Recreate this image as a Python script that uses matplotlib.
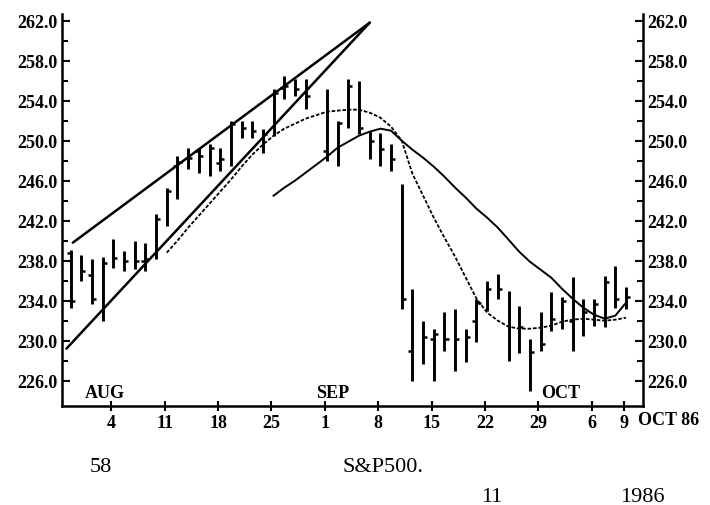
import numpy as np
import matplotlib
matplotlib.use('Agg')
import matplotlib.pyplot as plt
import matplotlib.ticker as ticker

plt.rcParams['font.family'] = ['Liberation Serif', 'DejaVu Serif']

#%% data (trading day index, day 23 = holiday gap)
day = list(range(0, 23)) + list(range(24, 53))
nan = np.nan

high = [239.1, 238.6, 238.2, 238.4, 240.2, 239.0, 240.0, 239.8, 242.7, 245.3,
        248.5, 249.3, 249.3, 249.7, 249.3, 252.0, 252.0, 252.0, 251.2, 255.2,
        256.5, 256.2, 256.2,
        255.2, 252.0, 256.2, 256.0, 251.0, 250.8, 249.7, 245.7, 235.2, 232.0,
        231.2, 232.9, 233.2, 231.2, 234.2, 236.0, 236.7, 235.0, 233.5, 230.2,
        232.9, 234.9, 234.4, 236.4, 234.2, 234.2, 236.5, 237.5, 235.4]
low = [233.3, 236.0, 233.7, 232.0, 237.3, 237.0, 237.2, 237.0, 238.2, 241.5,
       244.2, 247.2, 246.8, 246.5, 247.0, 247.5, 250.3, 250.3, 248.8, 250.5,
       254.2, 254.5, 253.2,
       248.0, 247.5, 251.3, 250.7, 248.2, 247.5, 247.0, 233.2, 226.0, 227.7,
       226.0, 229.0, 227.0, 227.9, 229.9, 233.0, 234.2, 228.0, 228.8, 225.0,
       229.0, 231.0, 231.2, 229.0, 230.5, 231.5, 231.4, 233.3, 233.2]
opn = [238.8, nan, 236.6, nan, nan, nan, nan, 238.0, nan, nan,
       247.5, nan, 249.0, nan, 247.8, nan, nan, nan, nan, nan,
       255.3, nan, nan,
       249.0, nan, nan, nan, nan, nan, nan, nan, 229.0, nan,
       230.2, nan, nan, nan, 232.0, nan, nan, nan, nan, nan,
       nan, nan, nan, 232.0, nan, nan, nan, nan, nan]
close = [234.0, 237.0, 234.2, 237.8, 238.3, 238.0, 238.0, 238.2, 242.2, 245.0,
         247.9, 248.3, 248.5, 249.3, 248.2, 251.7, 251.3, 251.0, 250.7, 254.8,
         255.5, 255.2, 254.5,
         nan, 251.8, 255.5, 251.3, 250.0, 249.2, 248.2, 234.2, nan, 230.4,
         230.7, 230.2, 230.2, 230.4, 233.8, 235.2, 235.2, nan, 231.4, 228.9,
         229.7, 232.2, 234.0, nan, 232.9, 233.7, 235.9, 234.2, 234.4]

# moving averages
ma_short_day = list(range(9, 23)) + list(range(24, 53))
ma_short = [238.8, 240.0, 241.3, 242.5, 243.7, 244.9, 246.1, 247.4, 248.6, 249.6,
            250.5, 251.2, 251.7, 252.2,
            252.9, 253.0, 253.1, 253.1, 252.8, 252.3, 251.4, 250.0, 246.7, 244.5,
            242.3, 240.3, 238.4, 236.3, 234.2, 232.8, 232.0, 231.4, 231.2, 231.2,
            231.3, 231.5, 231.9, 232.1, 232.2, 232.1, 232.0, 232.1, 232.3]
ma_long_day = list(range(19, 23)) + list(range(24, 53))
ma_long = [244.5, 245.3, 246.0, 246.8,
           248.4, 249.3, 249.9, 250.5, 250.9, 251.2, 251.0, 250.0, 249.1, 248.3,
           247.4, 246.4, 245.3, 244.3, 243.2, 242.3, 241.3, 240.1, 238.9, 237.9,
           237.1, 236.3, 235.2, 234.2, 233.3, 232.6, 232.2, 232.5, 233.8]

# trend lines (start, apex)
upper_x = [0.2, 28.0]
upper_y = [239.8, 261.8]
lower_x = [-0.4, 28.0]
lower_y = [229.2, 261.8]

xtick_pos = [3.8, 8.8, 13.8, 18.8, 23.8, 28.8, 33.8, 38.8, 43.8, 48.8, 51.8]
xtick_lab = ['4', '11', '18', '25', '1', '8', '15', '22', '29', '6', '9']
months = ['AUG', 'SEP', 'OCT']
month_pos = [3.2, 24.5, 45.9]

#%% plot
fig = plt.figure(figsize=(7.1, 5.06), dpi=100)
ax = fig.add_axes([0.0873, 0.1957, 0.8183, 0.7747])

w = 0.38
ax.vlines(day, low, high, colors='k', lw=2.1)
ax.hlines(opn, np.array(day) - w, day, colors='k', lw=1.8)
ax.hlines(close, day, np.array(day) + w, colors='k', lw=1.8)

ax.plot(upper_x, upper_y, color='k', lw=1.8, solid_capstyle='round')
ax.plot(lower_x, lower_y, color='k', lw=1.8, solid_capstyle='round')
ax.plot(ma_short_day, ma_short, color='k', lw=1.3, ls=(0, (2, 1)))
ax.plot(ma_long_day, ma_long, color='k', lw=1.4)

for m, p in zip(months, month_pos):
    ax.text(p, 224.8, m, ha='center', va='center', fontsize=13, fontweight='bold')

ax.set_xlim(-0.815, 53.59)
ax.set_ylim(223.47, 262.67)

ax.spines['top'].set_visible(False)
for s in ['left', 'right', 'bottom']:
    ax.spines[s].set_linewidth(1.8)

# y ticks on both sides
ax.yaxis.set_major_locator(ticker.FixedLocator(np.arange(226, 263, 4)))
ax.yaxis.set_minor_locator(ticker.FixedLocator(np.arange(228, 263, 4)))
ax.yaxis.set_major_formatter(ticker.FormatStrFormatter('%.1f'))
ax.tick_params(axis='y', which='both', direction='in', left=True, right=True,
               labelleft=True, labelright=True, width=1.5, labelsize=13, pad=3)
ax.tick_params(axis='y', which='major', length=6)
ax.tick_params(axis='y', which='minor', length=4)
for lab in ax.get_yticklabels():
    lab.set_fontweight('bold')

ax.set_xticks(xtick_pos)
ax.set_xticklabels(xtick_lab, fontsize=13, fontweight='bold')
ax.tick_params(axis='x', direction='inout', length=7, width=1.5, pad=2)

# month/year after the last date label
fig.text(638 / 710, 1 - 421 / 506, 'OCT 86', fontsize=13, fontweight='bold',
         ha='left', va='center')

# caption
fig.text(90 / 710, 1 - 468 / 506, '58', fontsize=16, va='center')
fig.text(343 / 710, 1 - 468 / 506, 'S&P500.', fontsize=16, va='center')
fig.text(481 / 710, 1 - 498 / 506, '11', fontsize=16, va='center')
fig.text(620 / 710, 1 - 498 / 506, '1986', fontsize=16, va='center')

#%% save
fig.savefig('out.png', dpi=100)
